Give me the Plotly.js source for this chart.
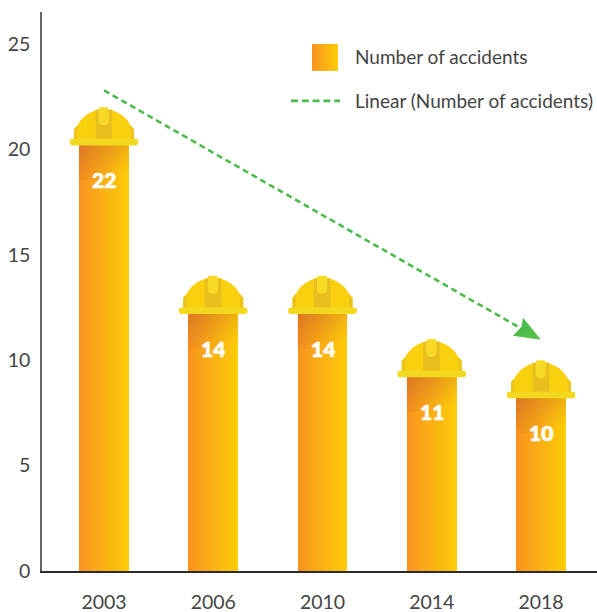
<!DOCTYPE html>
<html>
<head>
<meta charset="utf-8">
<script src="https://cdn.plot.ly/plotly-3.0.1.min.js"></script>
<style>html,body{margin:0;padding:0;background:#fff}#chart{width:597px;height:612px}</style>
</head>
<body>
<div id="chart"></div>
<script>
const years = ['2003', '2006', '2010', '2014', '2018'];
const accidents = [22, 14, 14, 11, 10];
const trendX = [0, 3.8];
const trendY = [22.8, 11.56];
const arrowTip = [4, 10.97];
const yTicks = [0, 5, 10, 15, 20, 25];
const seriesName = 'Number of accidents';
const trendName = 'Linear (Number of accidents)';

const FONT = 'Lato, "Open Sans", sans-serif';
const GREEN = '#4DBB4B';
const positions = years.map((_, i) => i);

const helmetSvg = `<svg xmlns="http://www.w3.org/2000/svg" width="276" height="364" viewBox="0 -1 69 91" preserveAspectRatio="none">
<defs><linearGradient id="s" x1="0" y1="0" x2="0.55" y2="1"><stop offset="0" stop-color="rgb(170,60,40)" stop-opacity="0.33"/><stop offset="1" stop-color="rgb(170,60,40)" stop-opacity="0"/></linearGradient></defs>
<rect x="8" y="-1" width="53" height="35" fill="#fff"/>
<rect x="9.5" y="37" width="50" height="36" fill="url(#s)"/>
<path d="M4.5 33V22L8 18C13 8 24 2 34.5 2C45 2 56 8 61 18L64.5 22V33Z" fill="#F9D00E"/>
<path d="M4.5 33V22L8 18V33ZM64.5 33V22L61 18V33Z" fill="#EDC51A"/>
<rect x="26" y="2.5" width="16.7" height="30" fill="#E8BF1E"/>
<path d="M29 2.5Q29 0 31.5 0H36.8Q39.3 0 39.3 2.5V13Q39.3 18 34.2 18Q29 18 29 13Z" fill="#F6DA26"/>
<rect x="0" y="31.6" width="69" height="6.6" rx="3.3" fill="#F3D820"/>
</svg>`;
const helmetUri = 'data:image/svg+xml;base64,' + btoa(helmetSvg);

const arrowSvg = `<svg xmlns="http://www.w3.org/2000/svg" width="112" height="88" viewBox="0 0 28 22" preserveAspectRatio="none">
<defs><linearGradient id="a" x1="0" y1="0" x2="1" y2="1"><stop offset="0" stop-color="#3FB64A"/><stop offset="1" stop-color="#5CC04A"/></linearGradient></defs>
<path d="M10 0L28 22L0 18L8.7 8.7Z" fill="url(#a)"/></svg>`;
const arrowUri = 'data:image/svg+xml;base64,' + btoa(arrowSvg);

const px = x => (x - 42) / 555;
const py = y => (571.5 - y) / 559.5;

const barTrace = {
  type: 'bar', x: positions, y: accidents, name: seriesName, width: 0.455,
  marker: {color: '#FBB014', line: {width: 0}}, hoverinfo: 'x+y'
};
const trendTrace = {
  type: 'scatter', mode: 'lines', x: trendX, y: trendY, name: trendName,
  line: {color: GREEN, width: 2.6, dash: '6px,4px'}
};

const layout = {
  width: 597, height: 612,
  margin: {l: 42, r: 0, t: 12, b: 40.5},
  paper_bgcolor: '#fff', plot_bgcolor: '#fff',
  showlegend: false,
  bargap: 0,
  font: {family: FONT, color: '#444', size: 18},
  xaxis: {
    range: [-0.5675, 4.5126], tickmode: 'array', tickvals: positions, ticktext: years,
    showgrid: false, zeroline: false, showline: true, linecolor: '#2a2a2a', linewidth: 1.5,
    ticks: '', ticklabelstandoff: 13, tickfont: {family: FONT, size: 19.5, color: '#444'}
  },
  yaxis: {
    range: [0, 26.517], tickmode: 'array', tickvals: yTicks,
    showgrid: false, zeroline: false, showline: true, linecolor: '#666', linewidth: 1.5,
    ticks: '', ticklabelstandoff: 6, tickfont: {family: FONT, size: 19.5, color: '#444'}
  },
  images: accidents.map((v, i) => ({
    source: helmetUri, xref: 'x', yref: 'y', x: i, y: v + 1 / 21.1,
    sizex: 69 / 109.25, sizey: 91 / 21.1, sizing: 'stretch',
    xanchor: 'center', yanchor: 'top', layer: 'above'
  })).concat([{
    source: arrowUri, xref: 'x', yref: 'y', x: arrowTip[0], y: arrowTip[1],
    sizex: 28 / 109.25, sizey: 22 / 21.1, sizing: 'stretch',
    xanchor: 'right', yanchor: 'bottom', layer: 'above'
  }]),
  shapes: [
    {type: 'rect', xref: 'paper', yref: 'paper', x0: px(312), x1: px(338), y0: py(71), y1: py(44),
     fillcolor: '#FBB014', line: {width: 0}},
    {type: 'line', xref: 'paper', yref: 'paper', x0: px(291), x1: px(340), y0: py(101), y1: py(101),
     line: {color: GREEN, width: 2.6, dash: '7px,3.8px'}}
  ],
  annotations: accidents.map((v, i) => ({
    x: i, y: v, xref: 'x', yref: 'y', yshift: -72.5, text: String(v), showarrow: false,
    font: {family: 'Lato, Roboto, sans-serif', size: 21, color: '#fff', weight: 900}
  })).concat([
    {x: px(353), y: py(57), xref: 'paper', yref: 'paper', xanchor: 'left', yanchor: 'middle',
     text: seriesName, showarrow: false, font: {family: FONT, size: 19, color: '#444'}},
    {x: px(353), y: py(101), xref: 'paper', yref: 'paper', xanchor: 'left', yanchor: 'middle',
     text: trendName, showarrow: false, font: {family: FONT, size: 19, color: '#444'}}
  ])
};

Plotly.newPlot('chart', [barTrace, trendTrace], layout, {displayModeBar: false}).then(gd => {
  const svg = gd.querySelector('.main-svg');
  const NS = 'http://www.w3.org/2000/svg';
  let defs = svg.querySelector('defs');
  if (!defs) { defs = document.createElementNS(NS, 'defs'); svg.insertBefore(defs, svg.firstChild); }
  const grad = document.createElementNS(NS, 'linearGradient');
  grad.setAttribute('id', 'barGrad');
  grad.setAttribute('x1', '0'); grad.setAttribute('x2', '1');
  grad.setAttribute('y1', '0'); grad.setAttribute('y2', '0');
  [['0', '#F7941E'], ['1', '#FFCC0A']].forEach(([o, c]) => {
    const s = document.createElementNS(NS, 'stop');
    s.setAttribute('offset', o); s.setAttribute('stop-color', c);
    grad.appendChild(s);
  });
  defs.appendChild(grad);
  gd.querySelectorAll('.bars .point path').forEach(p => p.style.setProperty('fill', 'url(#barGrad)'));
  const sw = gd.querySelector('.shapelayer path');
  if (sw) sw.style.setProperty('fill', 'url(#barGrad)');
  gd.querySelectorAll('.annotation-text').forEach((t, i) => {
    if (i < accidents.length) {
      t.style.setProperty('stroke', '#fff');
      t.style.setProperty('stroke-width', '0.7px');
    }
  });
});
</script>
</body>
</html>
